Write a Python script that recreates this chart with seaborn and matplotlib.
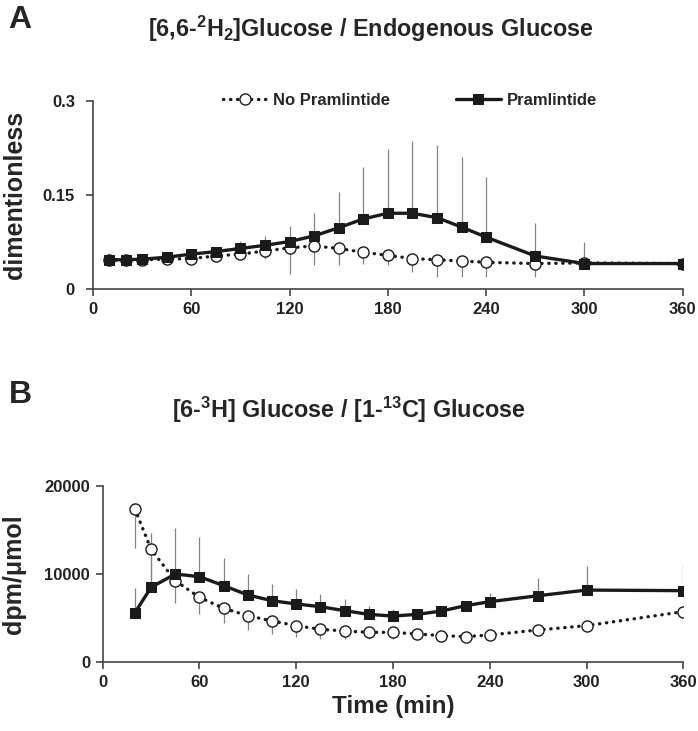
import numpy as np
import pandas as pd
import matplotlib
matplotlib.use('Agg')
import matplotlib.pyplot as plt
import seaborn as sns

## panel A data: [6,6-2H2]glucose / endogenous glucose
time_a = [10, 20, 30, 45, 60, 75, 90, 105, 120, 135, 150, 165, 180, 195, 210, 225, 240, 270, 300, 360]
pram_a = [0.047, 0.047, 0.048, 0.051, 0.056, 0.060, 0.065, 0.070, 0.076, 0.085, 0.098,
          0.112, 0.121, 0.121, 0.114, 0.099, 0.083, 0.053, 0.041, 0.041]
pram_a_err = [0.002, 0.002, 0.003, 0.004, 0.005, 0.008, 0.012, 0.015, 0.024, 0.037, 0.057,
              0.082, 0.103, 0.115, 0.115, 0.111, 0.096, 0.052, 0.034, 0.004]
nopram_a = [0.047, 0.047, 0.047, 0.048, 0.049, 0.053, 0.056, 0.061, 0.066, 0.069, 0.065,
            0.059, 0.054, 0.049, 0.047, 0.045, 0.043, 0.041, 0.042, 0.041]
nopram_a_err = [0.002, 0.002, 0.003, 0.004, 0.005, 0.007, 0.009, 0.012, 0.041, 0.031, 0.027,
                0.018, 0.016, 0.021, 0.027, 0.025, 0.024, 0.021, 0.008, 0.004]

## panel B data: [6-3H]glucose / [1-13C]glucose
time_b = [20, 30, 45, 60, 75, 90, 105, 120, 135, 150, 165, 180, 195, 210, 225, 240, 270, 300, 360]
pram_b = [5630, 8510, 10020, 9720, 8700, 7640, 6990, 6620, 6310, 5860,
          5440, 5250, 5440, 5820, 6430, 6880, 7560, 8200, 8130]
pram_b_err = [2760, 6200, 5180, 4460, 3180, 2340, 1850, 1660, 1440, 1290,
              990, 800, 400, 400, 400, 1020, 2040, 2720, 3100]
nopram_b = [17390, 12820, 9260, 7370, 6130, 5290, 4690, 4160, 3740, 3550,
            3400, 3400, 3210, 3030, 2910, 3100, 3670, 4160, 5750]
nopram_b_err = [4460, 3900, 2490, 1890, 1630, 1620, 1470, 1250, 1130, 900,
                800, 700, 600, 500, 450, 500, 700, 500, 1510]

sns.set_style('ticks')
plt.rcParams['font.family'] = ['Liberation Sans', 'DejaVu Sans']
plt.rcParams['font.weight'] = 'bold'
plt.rcParams['mathtext.fontset'] = 'custom'
plt.rcParams['mathtext.rm'] = 'Liberation Sans:bold'
plt.rcParams['mathtext.bf'] = 'Liberation Sans:bold'
plt.rcParams['mathtext.default'] = 'bf'

dark = '#1a1a1a'
spine_col = '#444444'
err_col = '#858585'

fig = plt.figure(figsize=(6.98, 7.31), dpi=100)
ax_a = fig.add_axes([0.1332, 0.6042, 0.845, 0.258])
ax_b = fig.add_axes([0.1471, 0.0940, 0.832, 0.241])


def draw_panel(ax, t, pram, pram_err, nopram, nopram_err):
    # one sided error bars: pramlintide up, no pramlintide down
    ax.vlines(t, pram, np.array(pram) + np.array(pram_err), color=err_col, lw=0.9, zorder=1)
    ax.vlines(t, np.array(nopram) - np.array(nopram_err), nopram, color=err_col, lw=0.9, zorder=1)
    sns.lineplot(x=t, y=nopram, ax=ax, color=dark, lw=2.4, linestyle=(0, (0.1, 2.0)),
                 dash_capstyle='round', marker='o', markersize=8, markerfacecolor='white',
                 markeredgecolor=dark, markeredgewidth=1.0, label='No Pramlintide', zorder=3)
    sns.lineplot(x=t, y=pram, ax=ax, color=dark, lw=2.4, marker='s', markersize=7.3,
                 markerfacecolor=dark, markeredgecolor=dark, label='Pramlintide', zorder=4)
    ax.set_xlim(0, 360)
    ax.set_xticks([0, 60, 120, 180, 240, 300, 360])
    sns.despine(ax=ax)
    for s in ['left', 'bottom']:
        ax.spines[s].set_color(spine_col)
        ax.spines[s].set_linewidth(1.2)
    ax.tick_params(axis='both', colors=spine_col, length=5, width=1.2, labelsize=12,
                   labelcolor='#222222', pad=4)
    for lab in ax.get_xticklabels() + ax.get_yticklabels():
        lab.set_fontweight('bold')


draw_panel(ax_a, time_a, pram_a, pram_a_err, nopram_a, nopram_a_err)
ax_a.set_ylim(0, 0.3)
ax_a.set_yticks([0, 0.15, 0.3])
ax_a.set_yticklabels(['0', '0.15', '0.3'], fontweight='bold')
ax_a.tick_params(axis='y', pad=8)
ax_a.set_ylabel('dimentionless', fontsize=18, fontweight='bold')
ax_a.yaxis.set_label_coords(-0.112, 0.5)
ax_a.legend(loc='center', bbox_to_anchor=(0.537, 1.0), ncol=2, frameon=False,
            columnspacing=4.0, handlelength=2.65, handletextpad=0.35,
            prop={'weight': 'bold', 'size': 12})

draw_panel(ax_b, time_b, pram_b, pram_b_err, nopram_b, nopram_b_err)
ax_b.get_legend().remove()
ax_b.set_ylim(0, 20000)
ax_b.set_yticks([0, 10000, 20000])
ax_b.set_yticklabels(['0', '10000', '20000'], fontweight='bold')
ax_b.set_ylabel('dpm/\u03bcmol', fontsize=18, fontweight='bold')
ax_b.yaxis.set_label_coords(-0.132, 0.5)
ax_b.set_xlabel('Time (min)', fontsize=17.5, fontweight='bold', labelpad=4)

## panel letters and titles
fig.text(0.012, 0.973, 'A', fontsize=23, fontweight='bold', va='center', ha='left')
fig.text(0.012, 0.460, 'B', fontsize=23, fontweight='bold', va='center', ha='left')
fig.text(0.531, 0.960, r'[6,6-$^{2}$H$_{2}$]Glucose / Endogenous Glucose',
         fontsize=16.8, fontweight='bold', ha='center', va='center')
fig.text(0.499, 0.439, r'[6-$^{3}$H] Glucose / [1-$^{13}$C] Glucose',
         fontsize=16.8, fontweight='bold', ha='center', va='center')

fig.savefig('out.png', dpi=100)
